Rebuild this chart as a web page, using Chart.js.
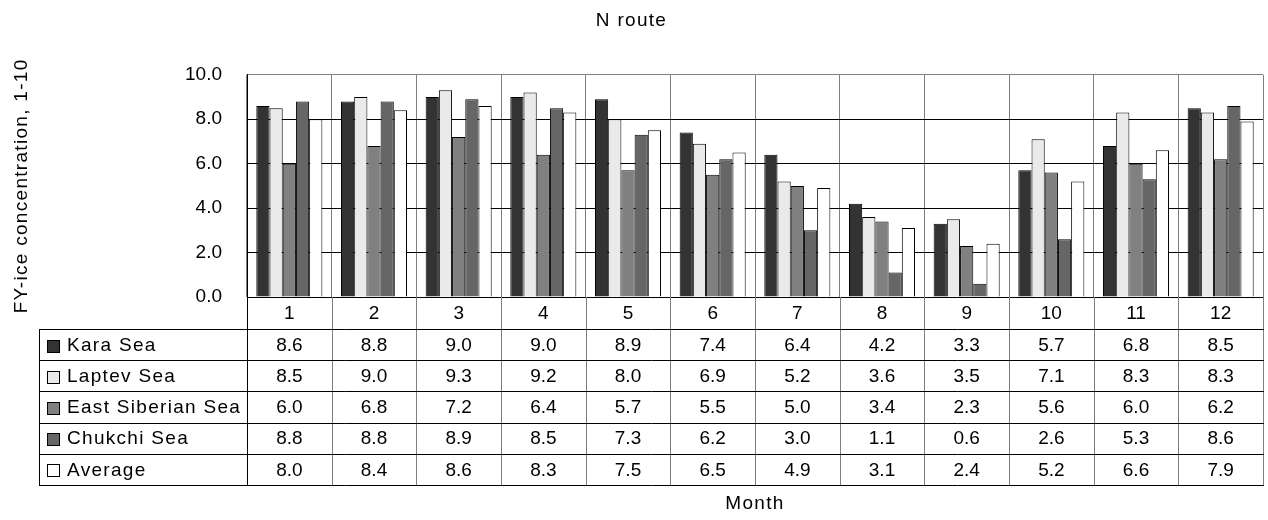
<!DOCTYPE html>
<html>
<head>
<meta charset="utf-8">
<script src="https://cdn.jsdelivr.net/npm/chart.js@4/dist/chart.umd.min.js"></script>
<style>
  html, body { margin: 0; padding: 0; background: #ffffff; }
  #wrap { width: 1268px; height: 520px; }
</style>
</head>
<body>
<div id="wrap"><canvas id="c" width="1268" height="520"></canvas></div>
<script>
// ---- data ----
const months = ['1', '2', '3', '4', '5', '6', '7', '8', '9', '10', '11', '12'];
const seriesNames = ['Kara Sea', 'Laptev Sea', 'East Siberian Sea', 'Chukchi Sea', 'Average'];
const karaSea = [8.6, 8.8, 9.0, 9.0, 8.9, 7.4, 6.4, 4.2, 3.3, 5.7, 6.8, 8.5];
const laptevSea = [8.5, 9.0, 9.3, 9.2, 8.0, 6.9, 5.2, 3.6, 3.5, 7.1, 8.3, 8.3];
const eastSiberianSea = [6.0, 6.8, 7.2, 6.4, 5.7, 5.5, 5.0, 3.4, 2.3, 5.6, 6.0, 6.2];
const chukchiSea = [8.8, 8.8, 8.9, 8.5, 7.3, 6.2, 3.0, 1.1, 0.6, 2.6, 5.3, 8.6];
const average = [8.0, 8.4, 8.6, 8.3, 7.5, 6.5, 4.9, 3.1, 2.4, 5.2, 6.6, 7.9];
const yTickValues = [0, 2, 4, 6, 8, 10];
const chartTitle = 'N route';
const yTitle = 'FY-ice concentration, 1-10';
const xTitle = 'Month';

const seriesValues = [karaSea, laptevSea, eastSiberianSea, chukchiSea, average];
const seriesColors = ['#333333', '#eaeaea', '#808080', '#666666', '#ffffff'];

const FONT = '"Liberation Sans", Arial, sans-serif';
const FS = 19;
const LETTER_SPACING = '1.3px';

// wider letter spacing for titles (drawn before the datasets), none for numbers
const spacingPlugin = {
  id: 'spacing',
  beforeDraw(chart) { chart.ctx.letterSpacing = LETTER_SPACING; },
  beforeDatasetsDraw(chart) { chart.ctx.letterSpacing = '0px'; }
};

// data table drawn under the plot, positioned from the x scale
const dataTablePlugin = {
  id: 'dataTable',
  afterDraw(chart) {
    const ctx = chart.ctx;
    const xs = chart.scales.x;
    const area = chart.chartArea;
    const headerH = 32;
    const rowH = 31.2;
    const tableLeft = 39;
    const top = area.bottom + headerH;
    const n = chart.data.labels.length;
    const bounds = [];
    for (let i = 0; i <= n; i++) {
      let px;
      if (i === 0) px = xs.getPixelForValue(0) - (xs.getPixelForValue(1) - xs.getPixelForValue(0)) / 2;
      else if (i === n) px = xs.getPixelForValue(n - 1) + (xs.getPixelForValue(n - 1) - xs.getPixelForValue(n - 2)) / 2;
      else px = (xs.getPixelForValue(i - 1) + xs.getPixelForValue(i)) / 2;
      bounds.push(Math.round(px) + 0.5);
    }
    const bottom = top + rowH * chart.data.datasets.length;
    ctx.save();
    ctx.lineWidth = 1;
    ctx.strokeStyle = '#808080';
    bounds.forEach((bx) => {
      ctx.beginPath();
      ctx.moveTo(bx, area.bottom);
      ctx.lineTo(bx, Math.round(bottom) + 0.5);
      ctx.stroke();
    });
    ctx.strokeStyle = '#000000';
    ctx.beginPath();
    ctx.moveTo(tableLeft + 0.5, Math.round(top) + 0.5);
    ctx.lineTo(tableLeft + 0.5, Math.round(bottom) + 0.5);
    ctx.stroke();
    ctx.beginPath();
    ctx.moveTo(bounds[0], area.top);
    ctx.lineTo(bounds[0], Math.round(bottom) + 0.5);
    ctx.stroke();
    for (let r = 0; r <= chart.data.datasets.length; r++) {
      const y = Math.round(top + r * rowH) + 0.5;
      ctx.beginPath();
      ctx.moveTo(tableLeft, y);
      ctx.lineTo(bounds[n] + 0.5, y);
      ctx.stroke();
    }
    ctx.font = FS + 'px ' + FONT;
    ctx.textBaseline = 'middle';
    chart.data.datasets.forEach((ds, r) => {
      const cy = top + r * rowH + rowH / 2 + 1;
      const sw = 12;
      const sx = tableLeft + 8, sy = Math.round(cy - sw / 2) + 0.5;
      ctx.fillStyle = ds.backgroundColor;
      ctx.fillRect(sx + 0.5, sy, sw, sw);
      ctx.strokeStyle = '#000000';
      ctx.strokeRect(sx + 0.5, sy, sw, sw);
      ctx.fillStyle = '#000000';
      ctx.textAlign = 'left';
      ctx.letterSpacing = LETTER_SPACING;
      ctx.fillText(ds.label, tableLeft + 28, cy);
      ctx.letterSpacing = '0px';
      ctx.textAlign = 'center';
      ds.data.forEach((v, i) => {
        ctx.fillText(v.toFixed(1), xs.getPixelForValue(i), cy);
      });
    });
    ctx.restore();
  }
};

new Chart(document.getElementById('c'), {
  type: 'bar',
  data: {
    labels: months,
    datasets: seriesNames.map((name, i) => ({
      label: name,
      data: seriesValues[i],
      backgroundColor: seriesColors[i],
      borderColor: '#000000',
      borderWidth: 1,
      borderSkipped: 'start',
      categoryPercentage: 0.78,
      barPercentage: 1.0
    }))
  },
  options: {
    responsive: false,
    animation: false,
    layout: { padding: { left: 0, right: 5, top: 0, bottom: 5 } },
    plugins: {
      legend: { display: false },
      tooltip: { enabled: false },
      title: {
        display: true,
        text: chartTitle,
        color: '#000000',
        font: { family: FONT, size: FS, weight: 'normal' },
        padding: { top: 9, bottom: 43 }
      }
    },
    scales: {
      x: {
        offset: true,
        grid: { display: true, offset: true, color: '#808080', lineWidth: 1, drawTicks: false },
        border: { display: true, color: '#000000', width: 1 },
        ticks: { z: 1, color: '#000000', font: { family: FONT, size: FS }, padding: 5, maxRotation: 0 },
        title: { display: true, text: xTitle, color: '#000000', font: { family: FONT, size: FS }, padding: { top: 0, bottom: 0 } },
        afterFit(scale) { scale.height = 218; }
      },
      y: {
        min: 0,
        max: 10,
        afterBuildTicks(scale) { scale.ticks = yTickValues.map(v => ({ value: v })); },
        grid: {
          color: (c) => (c.tick && c.tick.value === 10 ? '#808080' : '#000000'),
          lineWidth: 1,
          drawTicks: false
        },
        border: { display: true, color: '#000000', width: 1 },
        ticks: {
          z: 1,
          color: '#000000',
          font: { family: FONT, size: FS },
          padding: 25,
          callback: (v) => Number(v).toFixed(1)
        },
        title: { display: true, text: yTitle, color: '#000000', font: { family: FONT, size: FS }, padding: { top: 10, bottom: 0 } },
        afterFit(scale) { scale.width = 247; }
      }
    }
  },
  plugins: [spacingPlugin, dataTablePlugin]
});
</script>
</body>
</html>
